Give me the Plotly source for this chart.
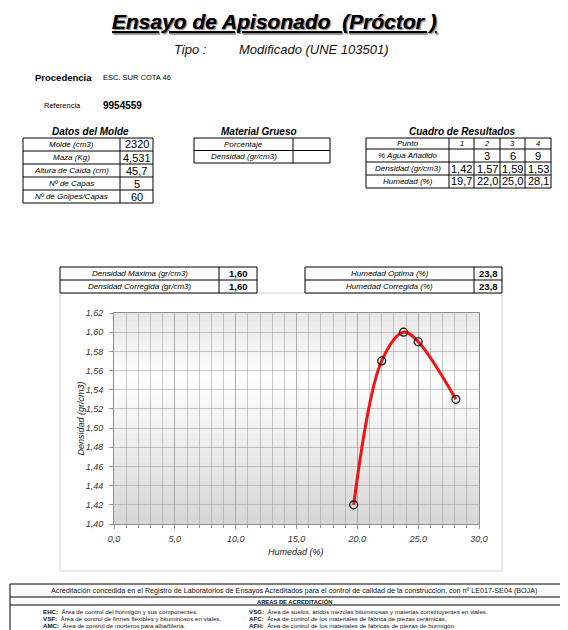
import plotly.graph_objects as go

# ---------------- data ----------------
molde_labels = ["Molde (cm3)", "Maza (Kg)", "Altura de Caída (cm)", "Nº de Capas", "Nº de Golpes/Capas"]
molde_values = ["2320", "4,531", "45,7", "5", "60"]
grueso_labels = ["Porcentaje", "Densidad (gr/cm3)"]
grueso_values = ["", ""]
res_row_labels = ["Punto", "% Agua Añadido", "Densidad (gr/cm3)", "Humedad (%)"]
punto = ["1", "2", "3", "4"]
agua_anadido = ["", "3", "6", "9"]
densidad_pts = ["1,42", "1,57", "1,59", "1,53"]
humedad_pts = ["19,7", "22,0", "25,0", "28,1"]
summary_left = ["Densidad Máxima (gr/cm3)", "Densidad Corregida (gr/cm3)"]
summary_left_vals = ["1,60", "1,60"]
summary_right = ["Humedad Optima (%)", "Humedad Corregida (%)"]
summary_right_vals = ["23,8", "23,8"]

# curve points (humedad %, densidad gr/cm3), includes optimum
curve_x = [19.7, 22.0, 23.8, 25.0, 28.1]
curve_y = [1.42, 1.57, 1.60, 1.59, 1.53]

x_ticks = [0, 5, 10, 15, 20, 25, 30]
x_ticktext = ["0,0", "5,0", "10,0", "15,0", "20,0", "25,0", "30,0"]
y_ticks = [1.40, 1.42, 1.44, 1.46, 1.48, 1.50, 1.52, 1.54, 1.56, 1.58, 1.60, 1.62]
y_ticktext = ["1,40", "1,42", "1,44", "1,46", "1,48", "1,50", "1,52", "1,54", "1,56", "1,58", "1,60", "1,62"]

footer_left = [("EHC:", "Área de control del hormigón y sus componentes."),
               ("VSF:", "Área de control de firmes flexibles y bituminosos en viales."),
               ("AMC:", "Área de control de morteros para albañilería.")]
footer_right = [("VSG:", "Área de suelos, áridos mezclas bituminosas y materias constituyentes en viales."),
                ("AFC:", "Área de control de los materiales de fábrica de piezas cerámicas."),
                ("AFH:", "Área de control de los materiales de fábricas de piezas de hormigón.")]

# ---------------- helpers ----------------
OFF = 8  # page body margin
W, H = 568 - OFF, 630 - OFF
F = "Liberation Sans, Arial, sans-serif"


def px(x):
    return (x - OFF) / W


def py(y):
    return 1 - (y - OFF) / H


shapes = []
annots = []


def line(x0, y0, x1, y1, color="#000", width=1):
    shapes.append(dict(type="line", xref="paper", yref="paper", x0=px(x0), y0=py(y0),
                       x1=px(x1), y1=py(y1), line=dict(color=color, width=width)))


def rect(x0, y0, x1, y1, color="#000", width=1, fill=None, layer="above"):
    d = dict(type="rect", xref="paper", yref="paper", x0=px(x0), y0=py(y0), x1=px(x1), y1=py(y1),
             line=dict(color=color, width=width), layer=layer)
    if fill:
        d["fillcolor"] = fill
    shapes.append(d)


def text(x, y, s, size, bold=False, italic=False, anchor="center", color="#000", **fontkw):
    font = dict(family=F, size=size, color=color,
                weight="bold" if bold else "normal",
                style="italic" if italic else "normal")
    font.update(fontkw)
    annots.append(dict(x=px(x), y=py(y), xref="paper", yref="paper", text=s, showarrow=False,
                       xanchor=anchor, yanchor="middle", font=font))


def grid_table(xs, ys):
    rect(xs[0], ys[0], xs[-1], ys[-1], width=1)
    for x in xs[1:-1]:
        line(x, ys[0], x, ys[-1])
    for y in ys[1:-1]:
        line(xs[0], y, xs[-1], y)


# ---------------- header ----------------
text(274, 21, "Ensayo de Apisonado  (Próctor )", 21, bold=True, italic=True,
     lineposition="under", shadow="1px 1px 1px #9a9a9a")
text(190, 50, "Tipo :", 13, italic=True, color="#111")
text(237, 50, "Modificado (UNE 103501)", 13, italic=True, anchor="left", color="#111")
text(33, 78, "Procedencia", 9.5, bold=True, anchor="left")
text(101, 78, "ESC. SUR COTA 46", 7.5, anchor="left")
text(42, 105, "Referencia", 7.5, anchor="left")
text(101, 105, "9954559", 10, bold=True, anchor="left")

# ---------------- Datos del Molde ----------------
mx = [23, 120, 153]
my = [138, 151, 164, 177, 190, 203]
text(90, 131, "Datos del Molde", 10, bold=True, italic=True)
grid_table(mx, my)
for i, (lab, val) in enumerate(zip(molde_labels, molde_values)):
    yc = (my[i] + my[i + 1]) / 2
    text((mx[0] + mx[1]) / 2, yc, lab, 8, italic=True)
    text((mx[1] + mx[2]) / 2, yc, val, 11)

# ---------------- Material Grueso ----------------
gx = [194, 293, 330]
gy = [138, 150.5, 163]
text(259, 131, "Material Grueso", 10, bold=True, italic=True)
grid_table(gx, gy)
for i, (lab, val) in enumerate(zip(grueso_labels, grueso_values)):
    yc = (gy[i] + gy[i + 1]) / 2
    text((gx[0] + gx[1]) / 2, yc, lab, 8, italic=True)
    if val:
        text((gx[1] + gx[2]) / 2, yc, val, 11)

# ---------------- Cuadro de Resultados ----------------
rx = [366, 449, 474, 500, 525, 551]
ry = [138, 149, 162, 175, 188]
text(462, 131, "Cuadro de Resultados", 10, bold=True, italic=True)
grid_table(rx, ry)
rows = [punto, agua_anadido, densidad_pts, humedad_pts]
for i, lab in enumerate(res_row_labels):
    yc = (ry[i] + ry[i + 1]) / 2
    text((rx[0] + rx[1]) / 2, yc, lab, 8, italic=True)
    for j, v in enumerate(rows[i]):
        if v:
            if i == 0:
                text((rx[j + 1] + rx[j + 2]) / 2, yc, v, 7.5, italic=True)
            else:
                text((rx[j + 1] + rx[j + 2]) / 2, yc, v, 11)

# ---------------- chart container ----------------
rect(60, 293, 502, 571, color="#d2d2d2", width=1, fill="#ffffff", layer="below")

# ---------------- summary tables ----------------
sy = [267, 280, 293]
slx = [60, 219, 257]
srx = [305, 474, 502]
for tx, labs, vals in [(slx, summary_left, summary_left_vals), (srx, summary_right, summary_right_vals)]:
    rect(tx[0], sy[0], tx[-1], sy[-1], width=1, fill="#ffffff")
    line(tx[1], sy[0], tx[1], sy[-1])
    line(tx[0], sy[1], tx[-1], sy[1])
    for i in range(2):
        yc = (sy[i] + sy[i + 1]) / 2
        text((tx[0] + tx[1]) / 2, yc, labs[i], 8, italic=True)
        text((tx[1] + tx[2]) / 2, yc, vals[i], 9.5, bold=True)

# ---------------- plot background gradient ----------------
nb = 44
for k in range(nb):
    t0 = k / nb
    t1 = (k + 1) / nb
    t = (t0 + t1) / 2
    if t < 0.7:
        v = 214 + (255 - 214) * (t / 0.7)
    else:
        v = 255 - (255 - 230) * ((t - 0.7) / 0.3)
    v = int(round(v))
    shapes.append(dict(type="rect", xref="x domain", yref="y domain", x0=0, x1=1, y0=t0, y1=t1 + 0.002,
                       line=dict(width=0), fillcolor=f"rgb({v},{v},{v})", layer="below"))

# axis titles
text(296.5, 552, "Humedad (%)", 9, italic=True, color="#222")
annots.append(dict(x=px(80), y=py(418.5), xref="paper", yref="paper", text="Densidad (gr/cm3)",
                   showarrow=False, textangle=-90, xanchor="center", yanchor="middle",
                   font=dict(family=F, size=9, color="#222", style="italic")))

# ---------------- footer ----------------
rect(10, 584, 567, 640, width=1)
line(10, 597, 567, 597)
line(10, 605, 567, 605)
text(294, 590.5, "Acreditación concedida en el Registro de Laboratorios de Ensayos Acreditados para el control de calidad de la construcción, con nº LE017-SE04 (BOJA)", 7.2, color="#111")
text(294, 601, "AREAS DE ACREDITACIÓN", 5.8, bold=True, color="#111")
fy = [611, 618, 625]
for i in range(3):
    text(41, fy[i], f"<b>{footer_left[i][0]}</b>  {footer_left[i][1]}", 6.2, anchor="left", color="#111")
    text(247, fy[i], f"<b>{footer_right[i][0]}</b>  {footer_right[i][1]}", 6.2, anchor="left", color="#111")

# ---------------- figure ----------------
fig = go.Figure()
fig.add_trace(go.Scatter(
    x=curve_x, y=curve_y, mode="lines+markers",
    line=dict(color="#f01414", width=3, shape="spline", smoothing=1.0),
    marker=dict(symbol="circle-open", size=8, color="#111111", line=dict(width=1.2)),
    showlegend=False, hoverinfo="x+y"))

gridc = "rgba(150,150,150,0.5)"
fig.update_layout(
    width=W, height=H,
    margin=dict(l=0, r=0, t=0, b=0, autoexpand=False),
    paper_bgcolor="#ffffff", plot_bgcolor="rgba(0,0,0,0)",
    showlegend=False,
    shapes=shapes, annotations=annots,
    xaxis=dict(domain=[px(114), px(479)], range=[0, 30], tickvals=x_ticks, ticktext=x_ticktext,
               showgrid=True, gridcolor=gridc, gridwidth=1, zeroline=False,
               minor=dict(dtick=1, tick0=0, showgrid=True, gridcolor=gridc, gridwidth=1,
                          ticks="outside", ticklen=3, tickcolor="#999"),
               ticks="outside", ticklen=4, tickcolor="#999",
               showline=True, linecolor="#8c8c8c", linewidth=1, mirror=True,
               tickfont=dict(family=F, size=9, color="#333", style="italic"),
               ticklabelstandoff=2, automargin=False, fixedrange=True),
    yaxis=dict(domain=[py(524), py(313)], range=[1.40, 1.62], tickvals=y_ticks, ticktext=y_ticktext,
               showgrid=True, gridcolor=gridc, gridwidth=1, zeroline=False,
               ticks="outside", ticklen=4, tickcolor="#999",
               showline=True, linecolor="#8c8c8c", linewidth=1, mirror=True,
               tickfont=dict(family=F, size=9, color="#333", style="italic"),
               ticklabelstandoff=4, automargin=False, fixedrange=True),
)

fig.write_html("out.html")
